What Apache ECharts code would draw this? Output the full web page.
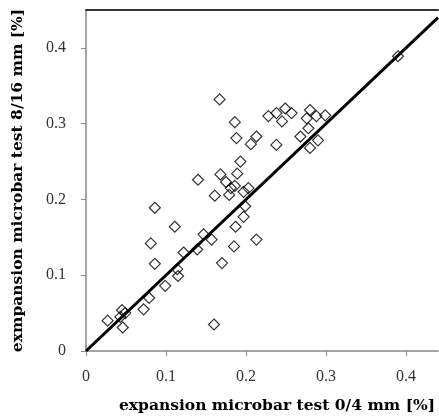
<!DOCTYPE html>
<html>
<head>
<meta charset="utf-8">
<script src="https://cdn.jsdelivr.net/npm/echarts@6/dist/echarts.min.js"></script>
<style>
  html, body { margin: 0; padding: 0; background: #fff; }
  #chart { width: 439px; height: 420px; }
</style>
</head>
<body>
<div id="chart"></div>
<script>
// expansion 0/4 mm (x) vs 8/16 mm (y), in %
var fineExp = [
  0.167, 0.186, 0.188, 0.206, 0.213, 0.193, 0.140, 0.168, 0.189, 0.175,
  0.181, 0.186, 0.179, 0.161, 0.197, 0.203, 0.086, 0.111, 0.199, 0.197,
  0.187, 0.147, 0.157, 0.213, 0.081, 0.185, 0.122, 0.139, 0.086, 0.170,
  0.114, 0.115, 0.099, 0.079, 0.072, 0.045, 0.049, 0.027, 0.043, 0.046,
  0.160, 0.390, 0.228, 0.238, 0.249, 0.257, 0.245, 0.280, 0.288, 0.299,
  0.276, 0.278, 0.268, 0.290, 0.280, 0.238
];
var coarseExp = [
  0.332, 0.302, 0.281, 0.273, 0.283, 0.250, 0.226, 0.233, 0.234, 0.223,
  0.215, 0.218, 0.206, 0.205, 0.210, 0.215, 0.189, 0.164, 0.191, 0.177,
  0.164, 0.154, 0.147, 0.147, 0.142, 0.138, 0.130, 0.134, 0.115, 0.116,
  0.108, 0.099, 0.086, 0.070, 0.055, 0.054, 0.050, 0.040, 0.045, 0.031,
  0.035, 0.389, 0.310, 0.314, 0.320, 0.314, 0.303, 0.318, 0.310, 0.311,
  0.307, 0.294, 0.283, 0.278, 0.268, 0.272
];
// 1:1 reference line
var lineX = [0, 0.44];
var lineY = [0, 0.44];

var points = fineExp.map(function (x, i) { return [x, coarseExp[i]]; });
var linePts = lineX.map(function (x, i) { return [x, lineY[i]]; });

var font = '"Liberation Serif", "DejaVu Serif", serif';
var nameFont = '"DejaVu Serif", serif';

var chart = echarts.init(document.getElementById('chart'));
chart.setOption({
  animation: false,
  grid: { left: 86, right: 1, top: 10, bottom: 69 },
  xAxis: [
    {
      type: 'value',
      min: 0,
      max: 0.44,
      interval: 0.1,
      name: 'expansion microbar test 0/4 mm [%]',
      nameLocation: 'middle',
      nameGap: 47,
      nameTextStyle: { fontFamily: nameFont, fontSize: 15.5, fontWeight: 'bold', color: '#000', padding: [0, 0, 0, 30] },
      axisLine: { lineStyle: { color: '#888', width: 1.5 } },
      axisTick: { inside: false, length: 5, lineStyle: { color: '#888' } },
      axisLabel: { fontFamily: font, fontSize: 16, color: '#333', margin: 18, showMaxLabel: false },
      splitLine: { show: false }
    },
    {
      type: 'value',
      position: 'top',
      min: 0,
      max: 0.44,
      axisLine: { show: true, lineStyle: { color: '#333', width: 2 } },
      axisTick: { show: false },
      axisLabel: { show: false },
      splitLine: { show: false }
    }
  ],
  yAxis: {
    type: 'value',
    min: 0,
    max: 0.45,
    interval: 0.1,
    name: 'exmpansion microbar test 8/16 mm [%]',
    nameLocation: 'middle',
    nameGap: 60,
    nameTextStyle: { fontFamily: nameFont, fontSize: 15.5, fontWeight: 'bold', color: '#000' },
    axisLine: { show: true, lineStyle: { color: '#888', width: 1.5 } },
    axisTick: { show: true, inside: false, length: 5, lineStyle: { color: '#888' } },
    axisLabel: { fontFamily: font, fontSize: 16, color: '#333', margin: 20, showMaxLabel: false },
    splitLine: { show: false }
  },
  series: [
    {
      type: 'line',
      data: linePts,
      symbol: 'none',
      lineStyle: { color: '#000', width: 3 },
      z: 3
    },
    {
      type: 'scatter',
      data: points,
      symbol: 'diamond',
      symbolSize: 11,
      itemStyle: { color: 'rgba(255,255,255,0)', borderColor: '#000', borderWidth: 1.2 },
      z: 4
    }
  ]
});
</script>
</body>
</html>
